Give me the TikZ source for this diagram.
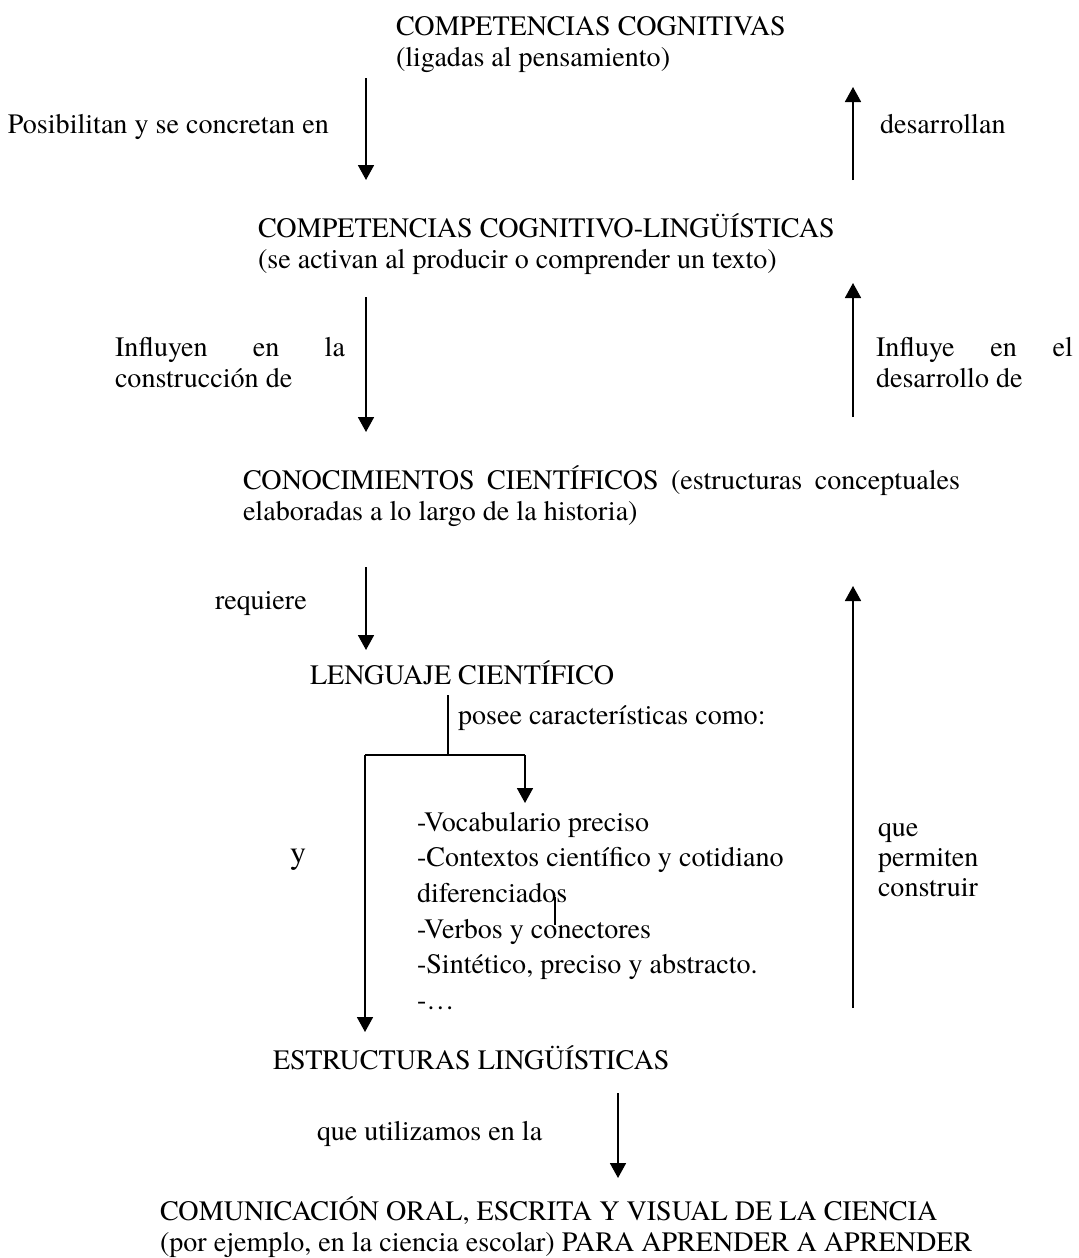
\documentclass[tikz,border=0pt]{standalone}
\usepackage{fontspec}
\setmainfont{texgyretermes-regular.otf}
\newfontfamily\diagramfont{texgyretermes-regular.otf}
\usetikzlibrary{arrows.meta}
\begin{document}
\begin{tikzpicture}[x=0.5pt,y=-0.5pt,
  txt/.style={anchor=base west,inner sep=0pt,outer sep=0pt,font=\diagramfont\fontsize{14.05}{15.5}\selectfont},
  link/.style={line width=0.9pt,-{Triangle[width=8pt,length=7.5pt]}},
  plain/.style={line width=0.9pt}]
\useasboundingbox[fill=white] (0,0) rectangle (1079,1258);

% Main concepts
\node[txt] (cog1) at (396,35) {COMPETENCIAS COGNITIVAS};
\node[txt] (cog2) at (396,66) {(ligadas al pensamiento)};
\node[txt] (lin1) at (258,237) {COMPETENCIAS COGNITIVO-LINGÜÍSTICAS};
\node[txt] (lin2) at (258,268) {(se activan al producir o comprender un texto)};
\node[txt] (con1) at (243,489) {\hbox to 358.5pt{CONOCIMIENTOS\hfill CIENTÍFICOS\hfill (estructuras\hfill conceptuales}};
\node[txt] (con2) at (243,520) {elaboradas a lo largo de la historia)};
\node[txt] (len) at (310,684) {LENGUAJE CIENTÍFICO};
\node[txt] (est) at (273,1069) {ESTRUCTURAS LINGÜÍSTICAS};
\node[txt] (com1) at (160,1220) {COMUNICACIÓN ORAL, ESCRITA Y VISUAL DE LA CIENCIA};
\node[txt] (com2) at (160,1251) {(por ejemplo, en la ciencia escolar) PARA APRENDER A APRENDER};

% Connector labels
\node[txt] (t1) at (8,133) {Posibilitan y se concretan en};
\node[txt] (t2) at (880,133) {desarrollan};
\node[txt] (t3a) at (115,356) {\hbox to 115pt{Influyen\hfill en\hfill la}};
\node[txt] (t3b) at (115,387) {construcción de};
\node[txt] (t4a) at (876,356) {\hbox to 98.5pt{Influye\hfill en\hfill el}};
\node[txt] (t4b) at (876,387) {desarrollo de};
\node[txt] (t5) at (215,609) {requiere};
\node[txt] (t6) at (458,724) {posee características como:};
\node[txt,font=\diagramfont\fontsize{16}{18}\selectfont] (t7) at (290,863) {y};
\node[txt] (t8a) at (878,836) {que};
\node[txt] (t8b) at (878,866) {permiten};
\node[txt] (t8c) at (878,896) {construir};
\node[txt] (t9) at (317,1140) {que utilizamos en la};

% Characteristics list
\node[txt] (c1) at (417,831) {-Vocabulario preciso};
\node[txt] (c2) at (417,866) {-Contextos científico y cotidiano};
\node[txt] (c3) at (417,902) {diferenciados};
\node[txt] (c4) at (417,938) {-Verbos y conectores};
\node[txt] (c5) at (417,973) {-Sintético, preciso y abstracto.};
\node[txt] (c6) at (417,1009) {-…};

% Arrow end points
\coordinate (a1s) at (366,78);  \coordinate (a1e) at (366,180);
\coordinate (a2s) at (853,180); \coordinate (a2e) at (853,87);
\coordinate (a3s) at (366,297); \coordinate (a3e) at (366,432);
\coordinate (a4s) at (853,417); \coordinate (a4e) at (853,283);
\coordinate (a5s) at (366,567); \coordinate (a5e) at (366,650);
\coordinate (a6s) at (853,1008); \coordinate (a6e) at (853,586);
\coordinate (a7s) at (618,1093); \coordinate (a7e) at (618,1178);
% Branch below LENGUAJE CIENTÍFICO
\coordinate (bt) at (448,695);  \coordinate (bm) at (448,755);
\coordinate (bl) at (365,755);  \coordinate (br) at (525,755);
\coordinate (brE) at (525,803); \coordinate (blE) at (365,1032);
\coordinate (mk1) at (555,897); \coordinate (mk2) at (555,925);

\draw[link] (a1s) -- (a1e);
\draw[link] (a2s) -- (a2e);
\draw[link] (a3s) -- (a3e);
\draw[link] (a4s) -- (a4e);
\draw[link] (a5s) -- (a5e);
\draw[link] (a6s) -- (a6e);
\draw[link] (a7s) -- (a7e);
\draw[plain] (bt) -- (bm);
\draw[plain] (bl) -- (br);
\draw[link] (br) -- (brE);
\draw[link] (bl) -- (blE);
\draw[line width=0.6pt] (mk1) -- (mk2);
\end{tikzpicture}
\end{document}
